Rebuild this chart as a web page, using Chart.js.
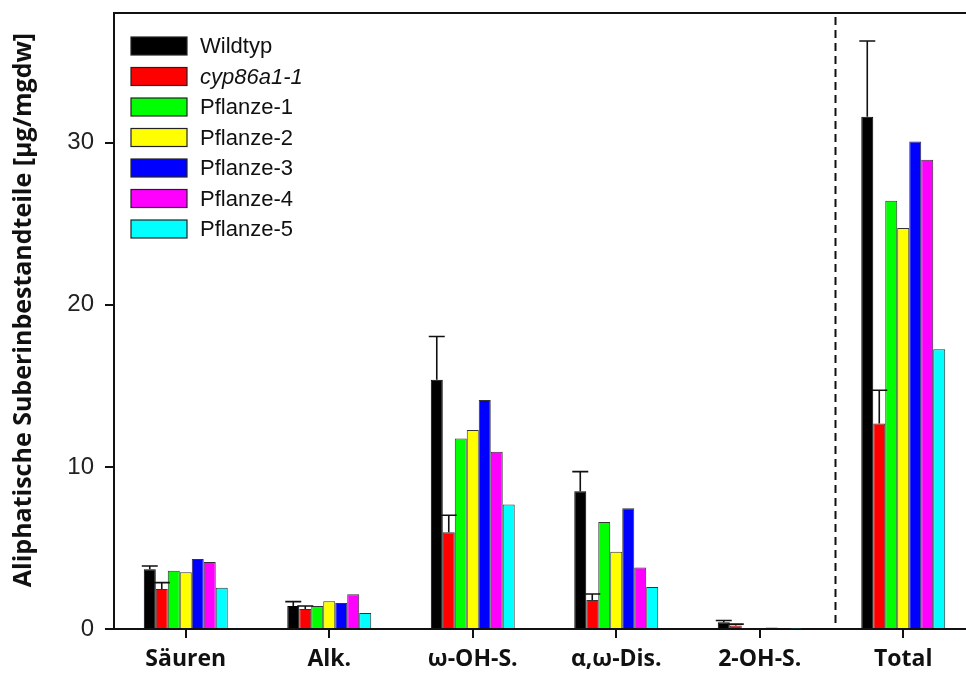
<!DOCTYPE html>
<html>
<head>
<meta charset="utf-8">
<script src="https://cdn.jsdelivr.net/npm/chart.js@4"></script>
<style>
html,body{margin:0;padding:0;background:#fff;overflow:hidden;width:966px;height:673px;}
#wrap{position:absolute;left:0;top:0;width:980px;height:673px;}
</style>
</head>
<body>
<div id="wrap"><canvas id="c" width="980" height="673"></canvas></div>
<script>
const categories = ["Säuren", "Alk.", "ω-OH-S.", "α,ω-Dis.", "2-OH-S.", "Total"];
const seriesNames = ["Wildtyp", "cyp86a1-1", "Pflanze-1", "Pflanze-2", "Pflanze-3", "Pflanze-4", "Pflanze-5"];
const seriesColors = ["#000000", "#ff0000", "#00ff00", "#ffff00", "#0000ff", "#ff00ff", "#00ffff"];
const wildtyp   = [3.68, 1.42, 15.37, 8.50, 0.42, 31.60];
const cyp86a1   = [2.47, 1.23, 5.97, 1.79, 0.22, 12.68];
const pflanze1  = [3.60, 1.42, 11.75, 6.60, 0.05, 26.42];
const pflanze2  = [3.50, 1.71, 12.28, 4.77, 0.05, 24.73];
const pflanze3  = [4.32, 1.60, 14.12, 7.45, 0.10, 30.08];
const pflanze4  = [4.14, 2.14, 10.93, 3.79, 0.06, 28.95];
const pflanze5  = [2.55, 0.99, 7.68, 2.59, 0.03, 17.26];
const wildtypErr = [0.21, 0.27, 2.67, 1.21, 0.10, 4.67];
const cyp86a1Err = [0.39, 0.19, 1.05, 0.37, 0.08, 2.05];
const yTicks = [0, 10, 20, 30];
const yTitle = "Aliphatische Suberinbestandteile [µg/mgdw]";

const values = [wildtyp, cyp86a1, pflanze1, pflanze2, pflanze3, pflanze4, pflanze5];
const errors = [wildtypErr, cyp86a1Err, null, null, null, null, null];

const datasets = seriesNames.map((n, i) => ({
  label: n,
  data: values[i],
  backgroundColor: seriesColors[i],
  borderColor: i === 0 ? "#000" : "#333",
  borderWidth: 1,
  borderSkipped: 'bottom',
  categoryPercentage: 0.585,
  barPercentage: 1.0,
  errors: errors[i]
}));

const decor = {
  id: 'decor',
  afterDatasetsDraw(chart) {
    const ctx = chart.ctx;
    const ys = chart.scales.y, xs = chart.scales.x;
    const ca = chart.chartArea;
    ctx.save();
    // error bars
    chart.data.datasets.forEach((ds, di) => {
      if (!ds.errors) return;
      const meta = chart.getDatasetMeta(di);
      meta.data.forEach((bar, j) => {
        const top = ys.getPixelForValue(ds.data[j]);
        const hi = ys.getPixelForValue(ds.data[j] + ds.errors[j]);
        ctx.strokeStyle = "#111";
        ctx.lineWidth = 1.6;
        ctx.beginPath();
        ctx.moveTo(bar.x, top);
        ctx.lineTo(bar.x, hi);
        ctx.moveTo(bar.x - 8, hi);
        ctx.lineTo(bar.x + 8, hi);
        ctx.stroke();
      });
    });
    // dashed separator
    const xd = (xs.getPixelForValue(4) + xs.getPixelForValue(5)) / 2 + 4;
    ctx.strokeStyle = "#111";
    ctx.lineWidth = 2;
    ctx.setLineDash([8, 5]);
    ctx.beginPath();
    ctx.moveTo(xd, ca.top + 4);
    ctx.lineTo(xd, ca.bottom);
    ctx.stroke();
    ctx.setLineDash([]);
    // top and right border
    ctx.lineWidth = 2;
    ctx.strokeStyle = "#111";
    ctx.beginPath();
    ctx.moveTo(ca.left, ca.top);
    ctx.lineTo(ca.right, ca.top);
    ctx.lineTo(ca.right, ca.bottom);
    ctx.stroke();
    // legend
    ctx.textBaseline = 'middle';
    ctx.textAlign = 'left';
    chart.data.datasets.forEach((ds, i) => {
      const cy = 46 + i * 30.5;
      ctx.fillStyle = ds.backgroundColor;
      ctx.fillRect(131, cy - 9, 56, 18);
      ctx.strokeStyle = "#222";
      ctx.lineWidth = 1.2;
      ctx.strokeRect(131, cy - 9, 56, 18);
      ctx.fillStyle = "#111";
      ctx.font = (i === 1 ? "italic " : "") + "22px 'Liberation Sans', Arial, sans-serif";
      ctx.fillText(ds.label, 200, cy + 1);
    });
    // y title
    ctx.save();
    ctx.translate(24, 310);
    ctx.rotate(-Math.PI / 2);
    ctx.textAlign = 'center';
    ctx.textBaseline = 'middle';
    ctx.fillStyle = "#111";
    ctx.font = "bold 25px 'Open Sans', sans-serif";
    ctx.fillText(yTitle, 0, 0);
    ctx.restore();
    ctx.restore();
  }
};

new Chart(document.getElementById('c'), {
  type: 'bar',
  data: { labels: categories, datasets },
  options: {
    responsive: false,
    animation: false,
    layout: { padding: { left: 0, top: 13, right: 5, bottom: 0 } },
    plugins: { legend: { display: false }, tooltip: { enabled: false } },
    scales: {
      x: {
        afterFit(s) { s.height = 44; s.paddingLeft = 0; s.paddingRight = 0; },
        grid: { offset: false, drawOnChartArea: false, drawTicks: true, tickLength: 9, color: "#111", lineWidth: 2 },
        border: { display: true, color: "#111", width: 2 },
        ticks: { color: "#111", padding: 8, font: { family: "'Open Sans', sans-serif", size: 23, weight: 'bold' } }
      },
      y: {
        min: 0, max: 38,
        afterFit(s) { s.width = 114; s.paddingTop = 0; s.paddingBottom = 0; },
        afterBuildTicks(s) { s.ticks = yTicks.map(v => ({ value: v })); },
        grid: { drawOnChartArea: false, drawTicks: true, tickLength: 9, color: "#111", lineWidth: 2 },
        border: { display: true, color: "#111", width: 2 },
        ticks: { color: "#222", padding: 11, font: { family: "'Liberation Sans', Arial, sans-serif", size: 24 } }
      }
    }
  },
  plugins: [decor]
});
</script>
</body>
</html>
